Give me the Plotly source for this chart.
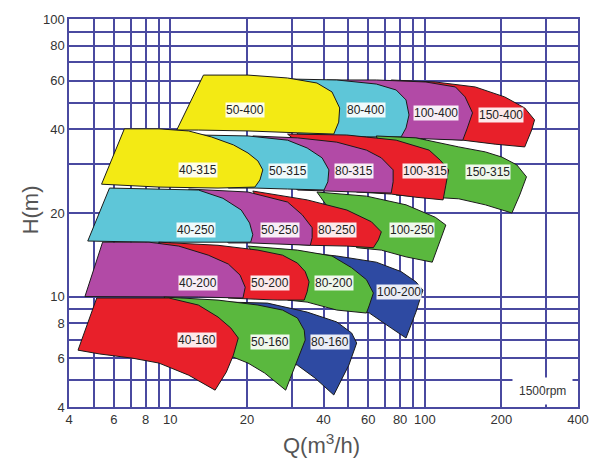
import math
import plotly.graph_objects as go

# ---------------- data (Q in m3/h, H in m) ----------------
x_tick_vals = [4, 6, 8, 10, 20, 40, 60, 80, 100, 200, 400]
x_minor_vals = [5, 7, 9, 30, 50, 70, 90, 300]
y_tick_vals = [4, 6, 8, 10, 20, 40, 60, 80, 100]
y_minor_vals = [5, 7, 9, 30, 50, 70, 90]

# row 400
q_150_400 = [73.8, 110, 158, 206, 247, 270, 263, 247, 189, 141, 101, 77.2]
h_150_400 = [60.3, 59.3, 56.9, 52.4, 47.8, 43.3, 39.8, 34.6, 35.4, 36.6, 37.3, 37.6]
q_100_400 = [41.3, 64.5, 101, 132, 144, 154, 147, 141, 101, 77.2, 54.0, 43.2]
h_100_400 = [60.3, 60.3, 59.3, 56.9, 52.4, 45.9, 40.5, 36.6, 37.0, 37.6, 37.6, 37.9]
q_80_400 = [28.9, 45.1, 64.5, 77.2, 84.4, 86.7, 84.4, 80.7, 59.0, 41.3, 31.6]
h_80_400 = [60.8, 60.3, 58.3, 55.5, 51.1, 45.1, 40.5, 37.6, 37.6, 38.2, 38.5]
q_50_400 = [13.5, 20.2, 28.9, 37.7, 43.2, 46.3, 45.9, 43.9, 31.6, 20.2, 12.9, 10.6]
h_50_400 = [62.8, 62.8, 61.3, 58.8, 54.6, 47.8, 42.5, 38.5, 38.9, 39.5, 39.8, 39.8]

# row 315
q_150_315 = [64.5, 92.3, 136, 173, 201, 230, 251, 236, 220, 173, 136, 110, 77.2]
h_150_315 = [37.9, 37.3, 34.6, 33.2, 31.8, 29.8, 27.0, 23.2, 20.0, 21.4, 22.5, 22.8, 23.2]
q_100_315 = [28.9, 49.4, 77.2, 104, 115, 124, 121, 118, 92.3, 73.8, 54.0]
h_100_315 = [38.5, 38.2, 36.6, 33.7, 31.0, 28.6, 25.2, 22.3, 22.8, 23.4, 23.8]
q_80_315 = [21.1, 31.6, 45.1, 59.0, 67.5, 75.1, 75.1, 73.8, 54.0, 41.3, 31.6]
h_80_315 = [37.9, 37.3, 36.0, 33.7, 31.6, 28.6, 25.9, 23.6, 23.8, 24.0, 24.2]
q_50_315 = [12.9, 20.2, 28.9, 34.5, 39.5, 42.0, 41.6, 40.2, 28.9, 21.5, 16.9]
h_50_315 = [38.2, 37.9, 36.6, 34.3, 31.6, 28.6, 25.9, 24.2, 24.4, 24.6, 24.6]
q_40_315 = [6.6, 9.02, 11.8, 14.5, 17.7, 20.2, 22.1, 23.1, 22.5, 21.5, 15.4, 9.02, 5.37]
h_40_315 = [40.2, 40.2, 39.5, 37.6, 35.2, 32.9, 30.8, 28.6, 26.3, 24.8, 24.6, 24.8, 25.4]

# row 250
q_100_250 = [37.7, 59.0, 84.4, 110, 121, 115, 107, 84.4, 67.5, 54.0]
h_100_250 = [23.8, 23.0, 21.4, 19.3, 18.1, 16.0, 13.3, 13.9, 14.7, 15.0]
q_80_250 = [21.1, 34.5, 49.4, 61.7, 67.5, 65.7, 62.8, 49.4, 35.5, 28.9]
h_80_250 = [24.0, 22.3, 20.5, 18.6, 17.1, 16.0, 15.0, 15.2, 15.3, 15.5]
q_50_250 = [11.8, 20.2, 28.9, 33.0, 36.1, 36.1, 35.5, 26.4, 20.7, 16.9]
h_50_250 = [24.4, 23.8, 21.9, 19.7, 17.7, 16.3, 15.3, 15.5, 15.6, 15.6]
q_40_250 = [5.77, 8.25, 12.9, 16.1, 19.0, 20.5, 21.1, 20.7, 12.9, 8.25, 4.74]
h_40_250 = [24.6, 24.4, 24.2, 22.6, 20.5, 18.4, 16.7, 15.7, 15.7, 15.7, 15.85]

# row 200
q_100_200 = [31.6, 45.1, 64.5, 80.7, 92.3, 98.3, 92.3, 84.4, 73.8, 60.6, 49.4]
h_100_200 = [14.5, 14.0, 13.3, 12.3, 11.3, 10.55, 8.79, 7.09, 7.70, 8.72, 9.32]
q_80_200 = [20.2, 31.6, 43.2, 51.6, 59.0, 62.8, 60.6, 59.0, 45.1, 34.5, 28.9]
h_80_200 = [15.2, 14.7, 14.0, 12.7, 11.5, 10.3, 9.32, 8.72, 8.94, 9.55, 9.71]
q_50_200 = [9.02, 15.4, 22.1, 27.6, 31.6, 33.9, 35.1, 34.5, 33.6, 26.4, 20.2, 16.9]
h_50_200 = [15.7, 15.3, 14.7, 14.1, 13.2, 12.3, 11.3, 10.4, 9.71, 9.71, 9.81, 9.88]
q_40_200 = [5.42, 8.25, 10.8, 14.1, 16.9, 18.8, 19.7, 19.3, 12.9, 8.25, 4.62]
h_40_200 = [15.7, 15.7, 15.2, 14.1, 13.1, 11.95, 10.8, 9.88, 9.96, 9.96, 10.0]

# row 160
q_80_160 = [16.9, 24.1, 34.5, 45.1, 51.6, 54.0, 50.3, 43.9, 37.1, 31.6, 26.4]
h_80_160 = [9.55, 9.47, 8.79, 8.10, 7.39, 6.80, 5.66, 4.42, 5.08, 5.66, 6.00]
q_50_160 = [9.44, 15.4, 22.1, 27.6, 31.6, 33.6, 33.9, 32.1, 30.2, 28.4, 23.5, 20.2, 16.9]
h_50_160 = [9.96, 9.71, 9.32, 8.94, 8.37, 7.57, 6.97, 6.15, 5.34, 4.60, 5.30, 5.76, 6.15]
q_40_160 = [5.14, 9.87, 12.9, 15.4, 17.3, 18.5, 17.7, 16.6, 15.0, 11.8, 9.02, 7.09, 5.28, 4.34]
h_40_160 = [9.88, 9.88, 9.32, 8.44, 7.70, 7.09, 6.15, 5.34, 4.60, 5.21, 5.76, 6.00, 6.21, 6.41]

# labels (name, Q, H)
label_names = ["50-400", "80-400", "100-400", "150-400",
               "40-315", "50-315", "80-315", "100-315", "150-315",
               "40-250", "50-250", "80-250", "100-250",
               "40-200", "50-200", "80-200", "100-200",
               "40-160", "50-160", "80-160"]
label_q = [19.7, 59.0, 111, 199,
           12.9, 28.9, 52.5, 100, 177,
           12.6, 26.9, 45.1, 89,
           12.9, 24.6, 43.9, 79.3,
           12.7, 24.6, 42.4]
label_h = [47.0, 47.0, 45.9, 45.0,
           28.6, 28.4, 28.4, 28.4, 28.1,
           17.4, 17.4, 17.4, 17.4,
           11.2, 11.2, 11.2, 10.4,
           6.97, 6.86, 6.86]

# ---------------- styles ----------------
YELLOW = "#f3ea14"
CYAN = "#5ec6d8"
PURPLE = "#b24aa6"
RED = "#e8202a"
GREEN = "#5ab83e"
BLUE = "#2e4aa2"
GRID = "#4a4aa0"

pumps = [  # back to front
    (q_150_400, h_150_400, RED), (q_100_400, h_100_400, PURPLE),
    (q_80_400, h_80_400, CYAN), (q_50_400, h_50_400, YELLOW),
    (q_150_315, h_150_315, GREEN), (q_100_315, h_100_315, RED),
    (q_80_315, h_80_315, PURPLE), (q_50_315, h_50_315, CYAN),
    (q_40_315, h_40_315, YELLOW),
    (q_100_250, h_100_250, GREEN), (q_80_250, h_80_250, RED),
    (q_50_250, h_50_250, PURPLE), (q_40_250, h_40_250, CYAN),
    (q_100_200, h_100_200, BLUE), (q_80_200, h_80_200, GREEN),
    (q_50_200, h_50_200, RED), (q_40_200, h_40_200, PURPLE),
    (q_80_160, h_80_160, BLUE), (q_50_160, h_50_160, GREEN),
    (q_40_160, h_40_160, RED),
]

fig = go.Figure()
for q, h, c in pumps:
    fig.add_trace(go.Scatter(
        x=q + [q[0]], y=h + [h[0]], mode="lines", fill="toself",
        fillcolor=c, line=dict(color="#1a1a1a", width=1),
        hoverinfo="skip", showlegend=False))

# annotations on log axes are positioned in log10 units
for name, q, h in zip(label_names, label_q, label_h):
    fig.add_annotation(x=math.log10(q), y=math.log10(h), xref="x", yref="y",
                       text=name, showarrow=False,
                       xanchor="center", yanchor="middle",
                       bgcolor="rgba(255,255,255,0.9)", borderpad=0,
                       font=dict(family="Liberation Sans", size=12, color="#222"))

fig.add_annotation(xref="paper", yref="paper", x=0.93, y=0.041, text="1500rpm",
                   xanchor="center", yanchor="middle",
                   showarrow=False, bgcolor="white", borderpad=6,
                   font=dict(family="Liberation Sans", size=12, color="#333"))
fig.add_annotation(xref="paper", yref="paper", x=-0.0757, y=0.508, text="H(m)",
                   xanchor="center", yanchor="middle",
                   textangle=-90, showarrow=False,
                   font=dict(family="Liberation Sans", size=22, color="#555"))
fig.add_annotation(xref="paper", yref="paper", x=0.497, y=-0.095, text="Q(m<sup>3</sup>/h)",
                   xanchor="center", yanchor="middle",
                   showarrow=False,
                   font=dict(family="Liberation Sans", size=22, color="#555"))

axis_common = dict(
    type="log", showgrid=True, gridcolor=GRID, gridwidth=1.5,
    showline=True, linecolor=GRID, linewidth=1.5, mirror=True,
    ticks="", zeroline=False,
    tickfont=dict(family="Liberation Sans", size=13, color="#333"),
)
fig.update_xaxes(
    range=[0.60206, 2.60206], tickvals=x_tick_vals,
    ticktext=[str(v) for v in x_tick_vals],
    minor=dict(tickvals=x_minor_vals, showgrid=True, gridcolor=GRID, gridwidth=1.5, ticks=""),
    **axis_common)
fig.update_yaxes(
    range=[0.60206, 2.0], tickvals=y_tick_vals,
    ticktext=[str(v) for v in y_tick_vals],
    minor=dict(tickvals=y_minor_vals, showgrid=True, gridcolor=GRID, gridwidth=1.5, ticks=""),
    **axis_common)

fig.update_layout(
    width=601, height=463,
    margin=dict(l=69, r=17, t=19, b=56),
    paper_bgcolor="white", plot_bgcolor="white",
    showlegend=False,
)
fig.write_html("out.html")
